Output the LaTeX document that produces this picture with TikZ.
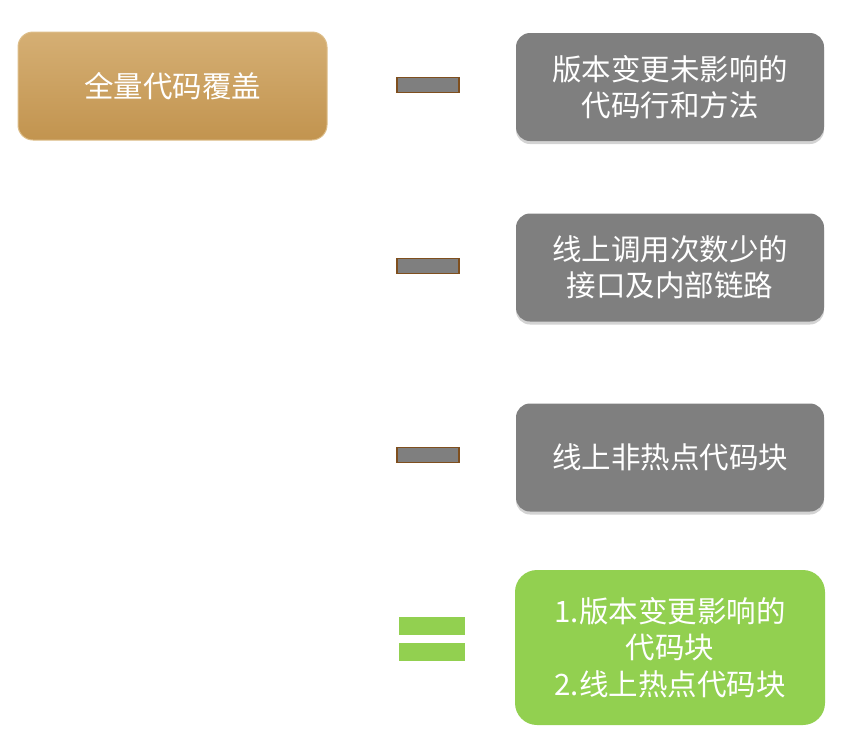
\documentclass[tikz,border=0pt]{standalone}
\usepackage{fontspec}
\setmainfont{Noto Sans CJK SC}
\usetikzlibrary{shadows}
\definecolor{goldtop}{HTML}{D5AF74}
\definecolor{goldbot}{HTML}{C2944F}
\definecolor{goldline}{HTML}{DDBE8A}
\definecolor{grayfill}{HTML}{7F7F7F}
\definecolor{greenfill}{HTML}{92D050}
\definecolor{brownline}{HTML}{7F4F1E}
\tikzset{
  txt/.style={text=white, font=\fontsize{29.5}{36.5}\selectfont, align=center},
  goldbox/.style={txt, rounded corners=15pt, draw=goldline, line width=1pt, top color=goldtop, bottom color=goldbot, minimum width=309pt, minimum height=108pt, inner sep=0pt},
  graybox/.style={txt, rounded corners=14pt, fill=grayfill, minimum width=308pt, minimum height=108pt, inner sep=0pt, drop shadow={shadow xshift=0pt, shadow yshift=-3pt, opacity=0.35}},
  greenbox/.style={txt, rounded corners=22pt, fill=greenfill, minimum width=310pt, minimum height=155pt, inner sep=0pt},
  minusbar/.style={draw=brownline, line width=1.5pt, fill=grayfill, minimum width=62pt, minimum height=15pt, inner sep=0pt},
  eqbar/.style={fill=greenfill, minimum width=66pt, minimum height=18pt, inner sep=0pt}
}
\begin{document}
\begin{tikzpicture}[x=1pt, y=-1pt]
\useasboundingbox (0,0) rectangle (862,748);
\node[goldbox] (all) at (172.5,86) {全量代码覆盖};
\node[graybox] (g1) at (670,87) {版本变更未影响的\\代码行和方法};
\node[graybox] (g2) at (670,267.5) {线上调用次数少的\\接口及内部链路};
\node[graybox] (g3) at (670,457.5) {线上非热点代码块};
\node[greenbox] (res) at (670,647.5) {1.版本变更影响的\\代码块\\2.线上热点代码块};
\node[minusbar] (m1) at (428,85) {};
\node[minusbar] (m2) at (428,266) {};
\node[minusbar] (m3) at (428,455) {};
\node[eqbar] (e1) at (432,626) {};
\node[eqbar] (e2) at (432,652) {};
\end{tikzpicture}
\end{document}
